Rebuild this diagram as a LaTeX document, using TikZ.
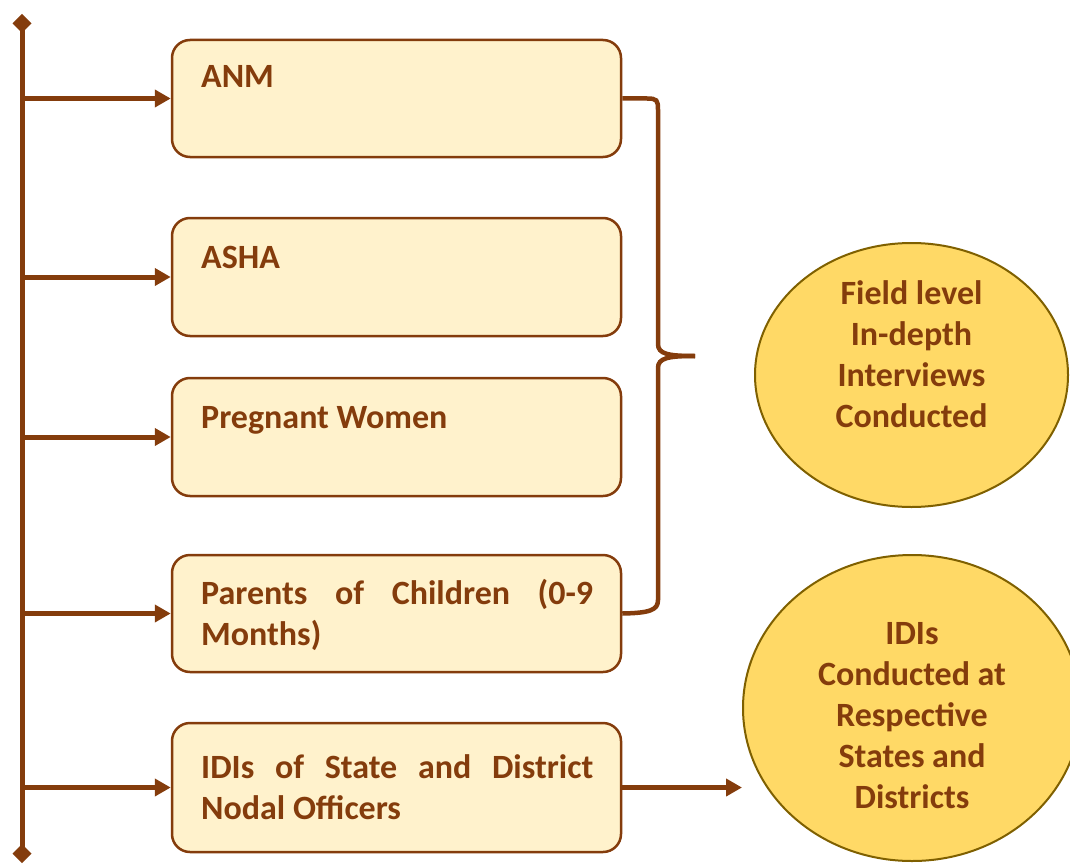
\documentclass[tikz,border=0pt]{standalone}
\usepackage{fontspec}
\setmainfont{Carlito}
\usetikzlibrary{arrows.meta,shapes.geometric}
\definecolor{brn}{HTML}{843C0C}
\definecolor{boxfill}{HTML}{FFF2CC}
\definecolor{ellfill}{HTML}{FFD966}
\definecolor{elldraw}{HTML}{7F6000}
\tikzset{
  stepbox/.style={draw=brn, line width=2.5pt, fill=boxfill, rounded corners=18pt,
    minimum width=449pt, inner sep=0pt},
  boxtext/.style={anchor=base west, inner sep=0pt, text=brn,
    font=\fontsize{34}{41}\selectfont\bfseries, text width=392pt, align=justify},
  ell/.style={ellipse, draw=elldraw, line width=2pt, fill=ellfill, inner sep=0pt},
  elltext/.style={anchor=base, inner sep=0pt, text=brn, align=center,
    font=\fontsize{34}{41}\selectfont\bfseries},
  conn/.style={draw=brn, line width=5pt},
  arr/.style={conn, -{Triangle[length=16pt,width=17pt]}},
}
\begin{document}
\begin{tikzpicture}[x=1pt,y=-1pt]
\useasboundingbox (0,0) rectangle (1070,864);
% boxes
\node[stepbox, minimum height=117pt] (anm) at (396.5,98.5) {};
\node[stepbox, minimum height=118pt] (asha) at (396.5,277) {};
\node[stepbox, minimum height=118pt] (preg) at (396.5,437) {};
\node[stepbox, minimum height=117pt] (par) at (396.5,613.5) {};
\node[stepbox, minimum height=129pt] (idi) at (396.5,787.5) {};
% texts
\node[boxtext] (tanm) at (201,88) {ANM};
\node[boxtext] (tasha) at (201,268) {ASHA};
\node[boxtext] (tpreg) at (201,428) {Pregnant Women};
\node[boxtext] (tpar) at (201,604) {\hyphenpenalty=10000 Parents of Children (0-9\linebreak Months)};
\node[boxtext] (tidi) at (201,778) {\hyphenpenalty=10000 IDIs of State and District\linebreak Nodal Officers};
% ellipses
\node[ell, minimum width=313pt, minimum height=264pt] (e1) at (911.5,375) {};
\node[elltext] (te1) at (911.5,427) {Field level\\In-depth\\Interviews\\Conducted};
\node[ell, minimum width=338pt, minimum height=306pt] (e2) at (912,708) {};
\node[elltext] (te2) at (912,808) {IDIs\\Conducted at\\Respective\\States and\\Districts};
% spine
\coordinate (top) at (22,14);
\coordinate (bot) at (22,863);
\draw[conn, {Diamond[length=19pt,width=19pt]}-{Diamond[length=19pt,width=19pt]}] (top) -- (bot);
\foreach \b in {anm,asha,preg,par,idi}{
  \draw[arr] (\b.west -| top) -- (\b.west);
}
% brace
\coordinate (tip) at (695,356);
\draw[conn, line width=4.5pt] (anm.east) -- (647,98.5) .. controls (657,98.5) and (658,100) .. (658,110)
  -- (658,344) .. controls (658,354) and (668,356) .. (tip);
\draw[conn, line width=4.5pt] (tip) .. controls (668,356) and (658,358) .. (658,368)
  -- (658,600) .. controls (658,610) and (650,613) .. (par.east);
% arrow to ellipse
\draw[arr] (idi.east) -- (idi.east -| e2.west);
\end{tikzpicture}
\end{document}
